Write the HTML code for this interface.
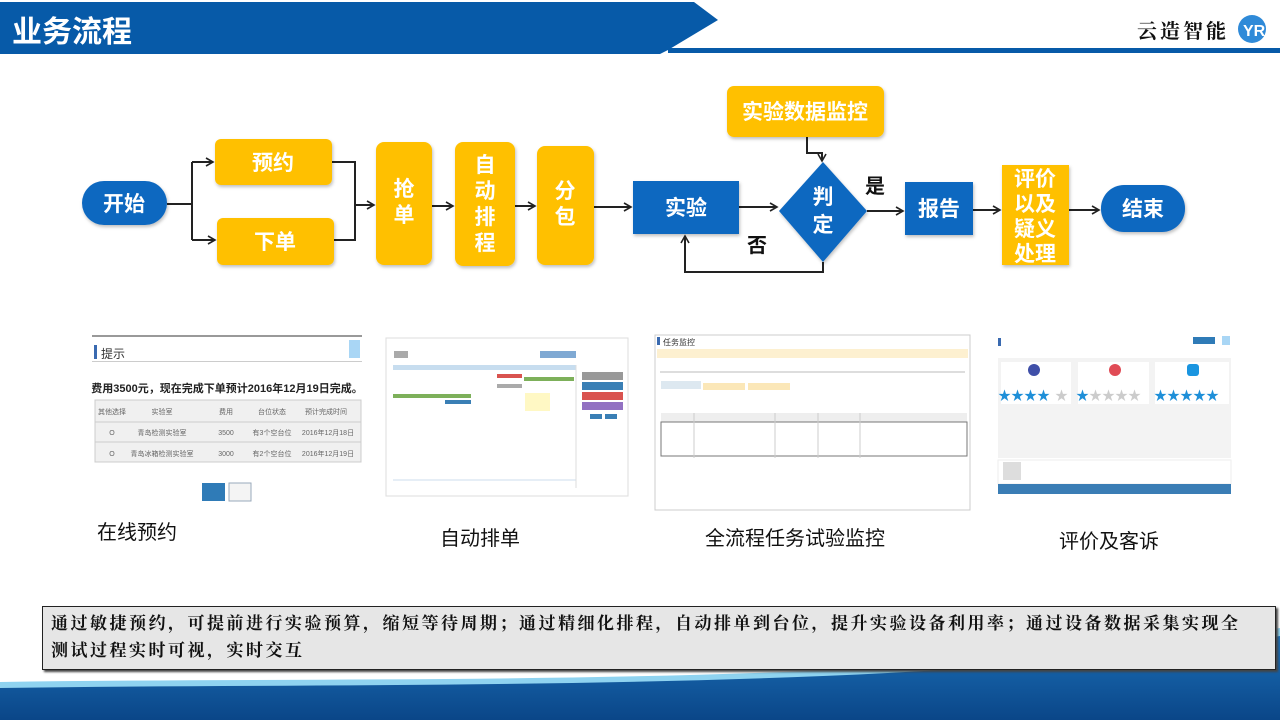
<!DOCTYPE html>
<html><head><meta charset="utf-8"><style>
body{margin:0;width:1280px;height:720px;overflow:hidden;background:#fff;font-family:"Liberation Sans","Noto Sans CJK SC",sans-serif;position:relative}
.a{position:absolute}
.lbl{position:absolute;font-size:20px;color:#111;font-family:"Liberation Sans","Noto Sans CJK SC",sans-serif}
</style></head><body>
<svg class="a" style="left:0;top:0" width="1280" height="720">
<defs>
<marker id="ar" markerWidth="10" markerHeight="10" refX="8" refY="5" orient="auto" markerUnits="userSpaceOnUse"><path d="M1,1 L8,5 L1,9" fill="none" stroke="#222" stroke-width="1.6"/></marker>
<linearGradient id="bw2" x1="0" y1="0" x2="0" y2="1"><stop offset="0" stop-color="#1c70b8"/><stop offset="1" stop-color="#0a4688"/></linearGradient>
<filter id="sh"><feDropShadow dx="1" dy="2" stdDeviation="1.5" flood-opacity="0.25"/></filter>
</defs>
<!-- bottom wave -->
<path d="M0,682 C400,676 900,690 1280,628 V720 H0 Z" fill="#8fd3f0"/>
<path d="M0,688 C400,682 900,694 1280,636 V720 H0 Z" fill="url(#bw2)"/>
<!-- header -->
<polygon points="0,2 694,2 718,20 668,50 660,54 0,54" fill="#075aa8"/>
<rect x="668" y="48" width="612" height="5" fill="#075aa8"/>
<text x="12" y="42" font-size="30" font-weight="bold" fill="#fff" font-family="Liberation Sans,Noto Sans CJK SC,sans-serif">业务流程</text>
<text x="1137" y="38" font-size="20" font-weight="bold" fill="#111" font-family="Noto Serif CJK SC,serif" letter-spacing="3">云造智能</text>
<circle cx="1252" cy="29" r="14" fill="#2f8ad8"/>
<text x="1243" y="36" font-size="16" font-weight="bold" fill="#fff">YR</text>

<!-- connectors -->
<g stroke="#222" stroke-width="2" fill="none">
<path d="M167,204 H192 M192,162 V240"/>
<path d="M192,162 H213" marker-end="url(#ar)"/>
<path d="M192,240 H215" marker-end="url(#ar)"/>
<path d="M332,162 H355 V240 H334 M355,205 H374" marker-end="url(#ar)"/>
<path d="M432,206 H453" marker-end="url(#ar)"/>
<path d="M515,206 H535" marker-end="url(#ar)"/>
<path d="M594,207 H631" marker-end="url(#ar)"/>
<path d="M739,207 H777" marker-end="url(#ar)"/>
<path d="M807,137 V153 H822 V161" marker-end="url(#ar)"/>
<path d="M823,262 V272 H685 V236" marker-end="url(#ar)"/>
<path d="M867,211 H903" marker-end="url(#ar)"/>
<path d="M973,210 H1000" marker-end="url(#ar)"/>
<path d="M1069,210 H1099" marker-end="url(#ar)"/>
</g>
<g filter="url(#sh)">
<rect x="82" y="181" width="85" height="44" rx="22" fill="#1168c0"/>
<rect x="215" y="139" width="117" height="46" rx="6" fill="#ffc000"/>
<rect x="217" y="218" width="117" height="47" rx="6" fill="#ffc000"/>
<rect x="376" y="142" width="56" height="123" rx="8" fill="#ffc000"/>
<rect x="455" y="142" width="60" height="124" rx="8" fill="#ffc000"/>
<rect x="537" y="146" width="57" height="119" rx="8" fill="#ffc000"/>
<rect x="633" y="181" width="106" height="53" fill="#1168c0"/>
<rect x="727" y="86" width="157" height="51" rx="7" fill="#ffc000"/>
<polygon points="823,162 867,211 823,262 779,211" fill="#1168c0"/>
<rect x="905" y="182" width="68" height="53" fill="#1168c0"/>
<rect x="1002" y="165" width="67" height="100" fill="#ffc000"/>
<rect x="1101" y="185" width="84" height="47" rx="23" fill="#1168c0"/>
</g>
<g fill="#fff" font-weight="bold" font-size="21" text-anchor="middle" font-family="Liberation Sans,Noto Sans CJK SC,sans-serif">
<text x="124" y="211">开始</text>
<text x="273" y="170">预约</text>
<text x="275" y="249">下单</text>
<text x="404" y="196">抢</text><text x="404" y="222">单</text>
<text x="485" y="172">自</text><text x="485" y="198">动</text><text x="485" y="224">排</text><text x="485" y="250">程</text>
<text x="565" y="198">分</text><text x="565" y="224">包</text>
<text x="686" y="215">实验</text>
<text x="805" y="119">实验数据监控</text>
<text x="823" y="204">判</text><text x="823" y="232">定</text>
<text x="939" y="216">报告</text>
<text x="1035" y="186">评价</text><text x="1035" y="211">以及</text><text x="1035" y="236">疑义</text><text x="1035" y="261">处理</text>
<text x="1143" y="216">结束</text>
</g>
<text x="865" y="193" font-size="20" font-weight="bold" fill="#111">是</text>
<text x="747" y="252" font-size="20" font-weight="bold" fill="#111">否</text>

<!-- screenshot 1 -->
<rect x="92" y="335" width="270" height="2" fill="#999"/>
<rect x="94" y="345" width="3" height="14" fill="#3a6ab0"/>
<text x="101" y="358" font-size="12" fill="#333">提示</text>
<rect x="349" y="340" width="11" height="18" fill="#a9d6f5"/>
<rect x="92" y="361" width="270" height="1" fill="#ccc"/>
<text x="227" y="392" font-size="11" font-weight="bold" text-anchor="middle" fill="#222">费用3500元，现在完成下单预计2016年12月19日完成。</text>
<rect x="95" y="400" width="266" height="62" fill="#f0f0f0" stroke="#ccc"/>
<line x1="95" y1="422" x2="361" y2="422" stroke="#ccc"/><line x1="95" y1="442" x2="361" y2="442" stroke="#ccc"/>
<g font-size="7" fill="#666" text-anchor="middle"><text x="112" y="414">其他选择</text><text x="162" y="414">实验室</text><text x="226" y="414">费用</text><text x="272" y="414">台位状态</text><text x="326" y="414">预计完成时间</text>
<text x="112" y="435">O</text><text x="162" y="435">青岛检测实验室</text><text x="226" y="435">3500</text><text x="272" y="435">有3个空台位</text><text x="328" y="435">2016年12月18日</text>
<text x="112" y="456">O</text><text x="162" y="456">青岛冰箱检测实验室</text><text x="226" y="456">3000</text><text x="272" y="456">有2个空台位</text><text x="328" y="456">2016年12月19日</text></g>
<rect x="202" y="483" width="23" height="18" fill="#2f7bb7"/><rect x="229" y="483" width="22" height="18" fill="#f4f4f4" stroke="#9ab"/>
<!-- screenshot 2 -->
<rect x="386" y="338" width="242" height="158" fill="#fff" stroke="#ddd"/>
<rect x="394" y="351" width="14" height="7" fill="#aaa"/>
<rect x="540" y="351" width="36" height="7" fill="#7fa9d3"/>
<rect x="393" y="365" width="183" height="5" fill="#c7ddef"/>
<rect x="497" y="374" width="25" height="4" fill="#d9534f"/><rect x="524" y="377" width="50" height="4" fill="#7db05a"/>
<rect x="497" y="384" width="25" height="4" fill="#aaa"/>
<rect x="393" y="394" width="78" height="4" fill="#7db05a"/><rect x="445" y="400" width="26" height="4" fill="#3a7fb5"/>
<rect x="525" y="393" width="25" height="18" fill="#fff8c4"/>
<line x1="393" y1="480" x2="576" y2="480" stroke="#cde"/><line x1="576" y1="365" x2="576" y2="488" stroke="#ddd"/>
<rect x="582" y="372" width="41" height="8" fill="#999"/><rect x="582" y="382" width="41" height="8" fill="#3a7fb5"/>
<rect x="582" y="392" width="41" height="8" fill="#d9534f"/><rect x="582" y="402" width="41" height="8" fill="#9271c2"/>
<rect x="590" y="414" width="12" height="5" fill="#3a7fb5"/><rect x="605" y="414" width="12" height="5" fill="#3a7fb5"/>
<!-- screenshot 3 -->
<rect x="655" y="335" width="315" height="175" fill="#fff" stroke="#ccc"/>
<rect x="657" y="337" width="3" height="8" fill="#3a6ab0"/>
<text x="663" y="345" font-size="8" fill="#333">任务监控</text>
<rect x="657" y="349" width="311" height="9" fill="#fdf0d0"/>
<line x1="660" y1="372" x2="965" y2="372" stroke="#bbb"/>
<rect x="661" y="381" width="40" height="8" fill="#dde8f0"/><rect x="703" y="383" width="42" height="7" fill="#fbe7b8"/><rect x="748" y="383" width="42" height="7" fill="#fbe7b8"/>
<rect x="661" y="413" width="306" height="9" fill="#eee"/>
<rect x="661" y="422" width="306" height="34" fill="#fff" stroke="#777"/>
<g stroke="#ccc"><line x1="694" y1="413" x2="694" y2="458"/><line x1="775" y1="413" x2="775" y2="458"/><line x1="818" y1="413" x2="818" y2="458"/><line x1="860" y1="413" x2="860" y2="458"/></g>
<!-- screenshot 4 -->
<rect x="998" y="338" width="3" height="8" fill="#3a6ab0"/>
<rect x="1193" y="337" width="22" height="7" fill="#2f7bb7"/><rect x="1222" y="336" width="8" height="9" fill="#a9d6f5"/>
<rect x="998" y="358" width="233" height="100" fill="#f3f3f3"/>
<rect x="1001" y="362" width="70" height="42" fill="#fff"/><rect x="1078" y="362" width="71" height="42" fill="#fff"/><rect x="1155" y="362" width="74" height="42" fill="#fff"/>
<circle cx="1034" cy="370" r="6" fill="#3f4fa8"/><circle cx="1115" cy="370" r="6" fill="#e04b55"/><rect x="1187" y="364" width="12" height="12" rx="3" fill="#1a95e0"/>
<g font-size="13" fill="#1e8fd8"><text x="998" y="400">★★★★</text><text x="1076" y="400">★</text><text x="1154" y="400">★★★★★</text></g>
<g font-size="13" fill="#ccc"><text x="1055" y="400">★</text><text x="1089" y="400">★★★★</text></g>
<rect x="998" y="460" width="233" height="24" fill="#fff" stroke="#eee"/>
<rect x="1003" y="462" width="18" height="18" fill="#ddd"/>
<rect x="998" y="484" width="233" height="10" fill="#3a7db5"/>
</svg>
<div class="lbl" style="left:97px;top:516px">在线预约</div>
<div class="lbl" style="left:440px;top:522px">自动排单</div>
<div class="lbl" style="left:705px;top:522px">全流程任务试验监控</div>
<div class="lbl" style="left:1059px;top:525px">评价及客诉</div>
<div class="a" style="left:42px;top:606px;width:1234px;height:64px;background:#e6e6e6;border:1px solid #222;box-shadow:2px 2px 2px #444;box-sizing:border-box;padding:3px 0 0 8px;font:bold 17px/27px 'Liberation Serif','Noto Serif CJK SC',serif;color:#111;letter-spacing:2.5px;white-space:nowrap;overflow:hidden">通过敏捷预约，可提前进行实验预算，缩短等待周期；通过精细化排程，自动排单到台位，提升实验设备利用率；通过设备数据采集实现全<br>测试过程实时可视，实时交互</div>
</body></html>
